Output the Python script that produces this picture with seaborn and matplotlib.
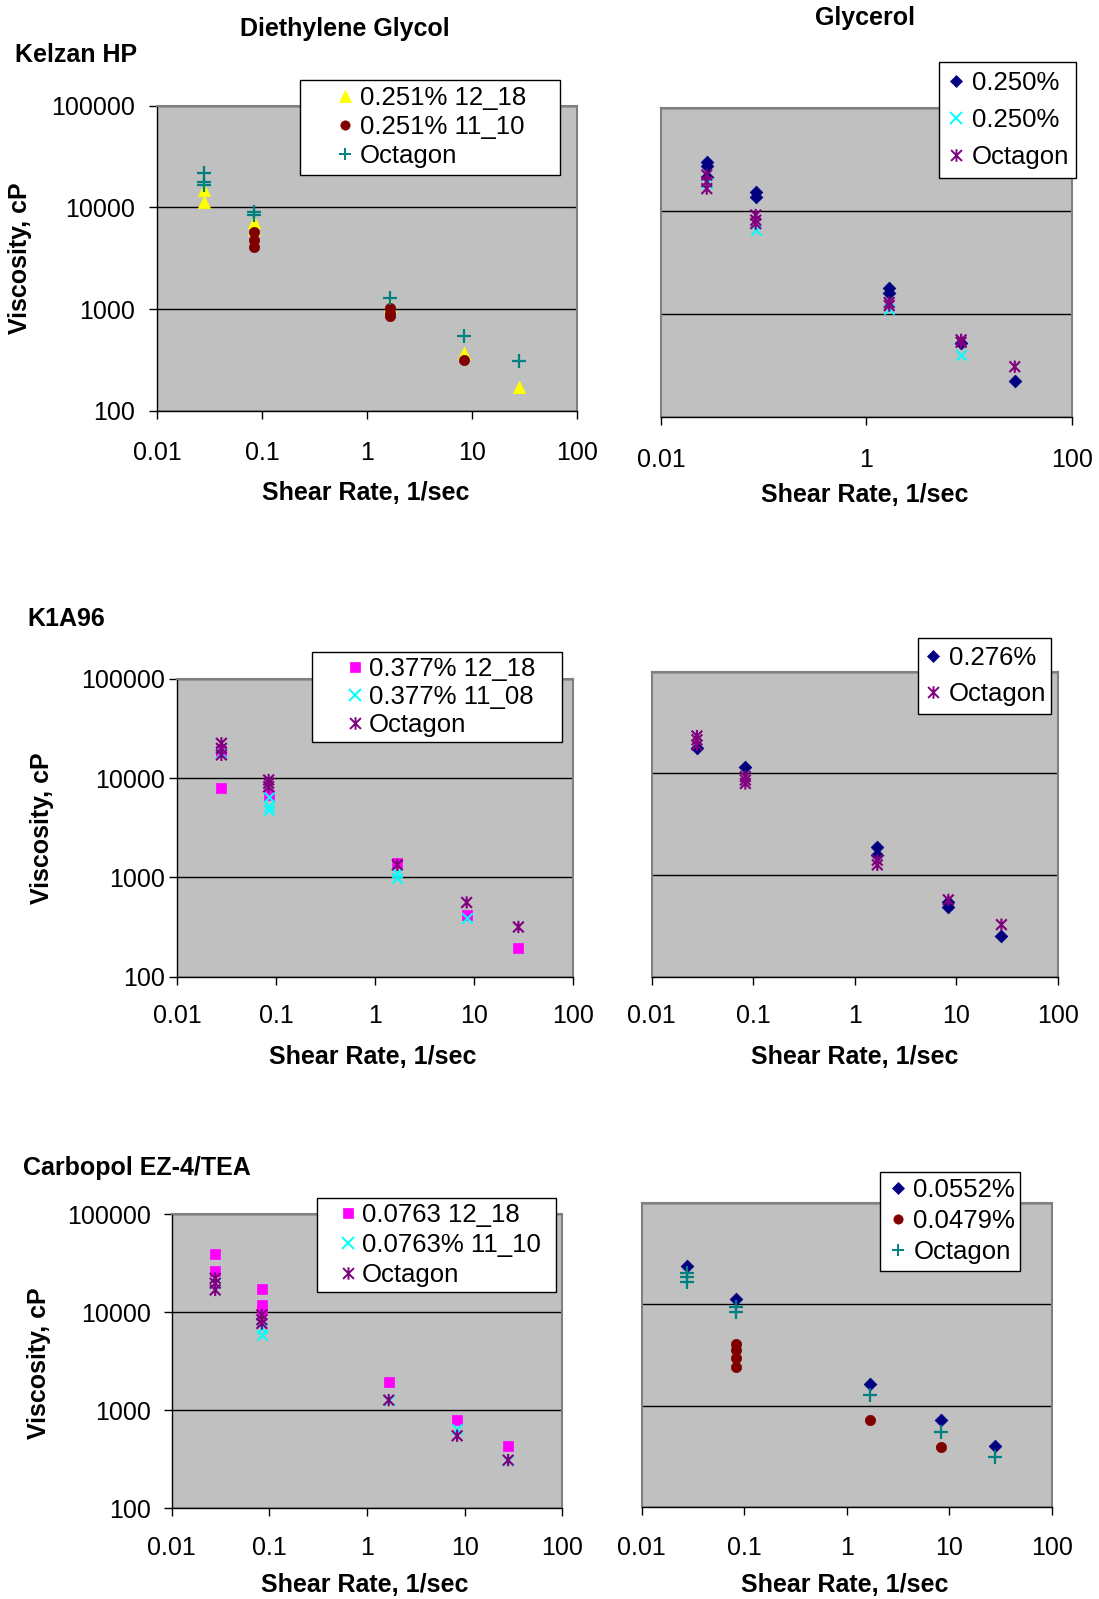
import matplotlib
matplotlib.use("Agg")
import matplotlib.pyplot as plt
from matplotlib.path import Path
from matplotlib.lines import Line2D
from matplotlib.ticker import FixedLocator, FixedFormatter, NullLocator
import seaborn as sns

sns.set_theme(style="ticks", rc={
    "text.color": "black", "axes.labelcolor": "black",
    "xtick.color": "black", "ytick.color": "black",
})
plt.rcParams['font.family'] = ['Liberation Sans', 'DejaVu Sans']

W, H = 1099, 1599

# ---------------- tick values / labels ----------------
x_ticks = [0.01, 0.1, 1, 10, 100]
x_tick_labels = ["0.01", "0.1", "1", "10", "100"]
x_ticks_sparse = [0.01, 1, 100]
x_tick_labels_sparse = ["0.01", "1", "100"]
y_ticks = [100, 1000, 10000, 100000]
y_tick_labels = ["100", "1000", "10000", "100000"]

# ---------------- data (shear rate 1/sec, viscosity cP) ----------------
# Kelzan HP - Diethylene Glycol
kzd_a_x = [0.0279, 0.0279, 0.0837, 0.0837, 1.67, 8.37, 27.9]
kzd_a_y = [14800, 11400, 7200, 6200, 1070, 370, 174]
kzd_b_x = [0.0837, 0.0837, 0.0837, 1.67, 1.67, 1.67, 8.37]
kzd_b_y = [5800, 4800, 4050, 1020, 920, 850, 316]
kzd_c_x = [0.0279, 0.0279, 0.0279, 0.0837, 0.0837, 1.67, 8.37, 27.9]
kzd_c_y = [21700, 17900, 16800, 9100, 8400, 1280, 547, 310]

# Kelzan HP - Glycerol
kzg_a_x = [0.0279, 0.0279, 0.0279, 0.0837, 0.0837, 1.67, 1.67, 8.37, 27.9]
kzg_a_y = [30000, 27500, 21500, 15500, 13900, 1820, 1620, 525, 225]
kzg_b_x = [0.0279, 0.0837, 1.67, 8.37]
kzg_b_y = [19000, 6600, 1125, 400]
kzg_c_x = [0.0279, 0.0279, 0.0279, 0.0837, 0.0837, 0.0837, 1.67, 1.67, 8.37, 8.37, 27.9]
kzg_c_y = [22500, 19400, 16600, 9200, 8200, 7600, 1300, 1215, 565, 535, 310]

# K1A96 - Diethylene Glycol
k1d_a_x = [0.0279, 0.0279, 0.0837, 1.67, 8.37, 27.9]
k1d_a_y = [19000, 7900, 6800, 1400, 415, 195]
k1d_b_x = [0.0279, 0.0837, 0.0837, 0.0837, 1.67, 1.67, 8.37]
k1d_b_y = [18000, 6500, 5200, 4800, 1100, 980, 390]
k1d_c_x = [0.0279, 0.0279, 0.0279, 0.0837, 0.0837, 0.0837, 1.67, 8.37, 27.9]
k1d_c_y = [22500, 20000, 17200, 9600, 8900, 8200, 1340, 560, 317]

# K1A96 - Glycerol
k1g_a_x = [0.0279, 0.0837, 1.67, 1.67, 8.37, 8.37, 27.9]
k1g_a_y = [17700, 11600, 1900, 1580, 545, 490, 250]
k1g_b_x = [0.0279, 0.0279, 0.0279, 0.0837, 0.0837, 0.0837, 1.67, 1.67, 8.37, 27.9]
k1g_b_y = [23300, 21400, 19000, 9300, 8600, 7950, 1400, 1260, 570, 325]

# Carbopol EZ-4/TEA - Diethylene Glycol
cbd_a_x = [0.0279, 0.0279, 0.0837, 0.0837, 0.0837, 1.67, 8.37, 27.9]
cbd_a_y = [39400, 26600, 17300, 11900, 10500, 1950, 795, 430]
cbd_b_x = [0.0279, 0.0837, 0.0837, 1.67, 8.37, 27.9]
cbd_b_y = [20000, 6900, 5860, 1270, 650, 310]
cbd_c_x = [0.0279, 0.0279, 0.0279, 0.0837, 0.0837, 0.0837, 1.67, 8.37, 27.9]
cbd_c_y = [22200, 19800, 16900, 9400, 8400, 7700, 1270, 550, 310]

# Carbopol EZ-4/TEA - Glycerol
cbg_a_x = [0.0279, 0.0837, 1.67, 8.37, 27.9]
cbg_a_y = [24000, 11200, 1650, 716, 395]
cbg_b_x = [0.0837, 0.0837, 0.0837, 0.0837, 1.67, 8.37]
cbg_b_y = [4050, 3580, 2985, 2410, 725, 387]
cbg_c_x = [0.0279, 0.0279, 0.0279, 0.0837, 0.0837, 1.67, 8.37, 27.9]
cbg_c_y = [20600, 18800, 16700, 9460, 8450, 1260, 550, 310]

# ---------------- styles ----------------
YELLOW, DARKRED, TEAL = "#FFFF00", "#800000", "#008080"
NAVY, CYAN, PURPLE, MAGENTA = "#000080", "#00FFFF", "#800080", "#FF00FF"

star = Path([(-1, -1), (1, 1), (-1, 1), (1, -1), (0, -1.15), (0, 1.15)],
            [Path.MOVETO, Path.LINETO, Path.MOVETO, Path.LINETO, Path.MOVETO, Path.LINETO])

STY = {
    "tri":  dict(marker="^", s=80, lw=0.5, kind="filled", leg_ms=8.6),
    "circ": dict(marker="o", s=55, lw=0.5, kind="filled", leg_ms=6.7),
    "plus": dict(marker="+", s=92, lw=1.6, kind="line", leg_ms=8.4),
    "diam": dict(marker="D", s=42, lw=0.5, kind="filled", leg_ms=6.1),
    "x":    dict(marker="x", s=55, lw=1.5, kind="line", leg_ms=8.8),
    "sq":   dict(marker="s", s=50, lw=0.5, kind="filled", leg_ms=6.7),
    "star": dict(marker=star, s=78, lw=1.5, kind="path", leg_ms=9.0),
}

panels = [
    dict(rect=(157.3, 105.7, 576.7, 411.0), xt=(x_ticks, x_tick_labels), ylab=True, ypad=9.9, xpad=16,
         series=[(kzd_a_x, kzd_a_y, "0.251% 12_18", "tri", YELLOW),
                 (kzd_b_x, kzd_b_y, "0.251% 11_10", "circ", DARKRED),
                 (kzd_c_x, kzd_c_y, "Octagon", "plus", TEAL)],
         leg=dict(box=(300, 79.5, 260), bp=0.25, ls=0.20, hl=2.97, htp=-0.89)),
    dict(rect=(661.0, 108.3, 1071.7, 417.3), xt=(x_ticks_sparse, x_tick_labels_sparse), ylab=False, ypad=0, xpad=16,
         series=[(kzg_a_x, kzg_a_y, "0.250%", "diam", NAVY),
                 (kzg_b_x, kzg_b_y, "0.250%", "x", CYAN),
                 (kzg_c_x, kzg_c_y, "Octagon", "star", PURPLE)],
         leg=dict(box=(939, 62, 137), bp=0.35, ls=0.50, hl=0.62, htp=0.30)),
    dict(rect=(177.3, 679.0, 573.3, 976.7), xt=(x_ticks, x_tick_labels), ylab=True, ypad=3, xpad=14,
         series=[(k1d_a_x, k1d_a_y, "0.377% 12_18", "sq", MAGENTA),
                 (k1d_b_x, k1d_b_y, "0.377% 11_08", "x", CYAN),
                 (k1d_c_x, k1d_c_y, "Octagon", "star", PURPLE)],
         leg=dict(box=(312, 652, 250), bp=0.18, ls=0.17, hl=2.97, htp=-0.94)),
    dict(rect=(651.7, 671.7, 1057.7, 976.7), xt=(x_ticks, x_tick_labels), ylab=False, ypad=0, xpad=14,
         series=[(k1g_a_x, k1g_a_y, "0.276%", "diam", NAVY),
                 (k1g_b_x, k1g_b_y, "Octagon", "star", PURPLE)],
         leg=dict(box=(918, 638, 133), bp=0.32, ls=0.45, hl=0.51, htp=0.37)),
    dict(rect=(171.7, 1214.3, 562.3, 1508.3), xt=(x_ticks, x_tick_labels), ylab=True, ypad=9.2, xpad=14,
         series=[(cbd_a_x, cbd_a_y, "0.0763 12_18", "sq", MAGENTA),
                 (cbd_b_x, cbd_b_y, "0.0763% 11_10", "x", CYAN),
                 (cbd_c_x, cbd_c_y, "Octagon", "star", PURPLE)],
         leg=dict(box=(317, 1198, 239), bp=0.18, ls=0.25, hl=2.02, htp=-0.45)),
    dict(rect=(641.7, 1203.3, 1051.7, 1506.7), xt=(x_ticks, x_tick_labels), ylab=False, ypad=0, xpad=15,
         series=[(cbg_a_x, cbg_a_y, "0.0552%", "diam", NAVY),
                 (cbg_b_x, cbg_b_y, "0.0479%", "circ", DARKRED),
                 (cbg_c_x, cbg_c_y, "Octagon", "plus", TEAL)],
         leg=dict(box=(880, 1172, 140), bp=0.25, ls=0.27, hl=0.90, htp=0.15)),
]

fig = plt.figure(figsize=(W / 100, H / 100), dpi=100)
fig.patch.set_facecolor("white")

for p in panels:
    l, t, r, b = p["rect"]
    ax = fig.add_axes([l / W, 1 - b / H, (r - l) / W, (b - t) / H])
    ax.set_facecolor("#C0C0C0")
    ax.set_xscale("log")
    ax.set_yscale("log")
    handles, labels = [], []
    for xs, ys, lab, key, col in p["series"]:
        st = STY[key]
        kw = dict(x=xs, y=ys, ax=ax, marker=st["marker"], s=st["s"], color=col,
                  legend=False, zorder=3, linewidth=st["lw"])
        if st["kind"] == "filled":
            kw["edgecolor"] = col
        elif st["kind"] == "path":
            kw["edgecolor"] = col
            kw["facecolor"] = "none"
        sns.scatterplot(**kw)
        if st["kind"] == "filled":
            h = Line2D([], [], linestyle="none", marker=st["marker"], markersize=st["leg_ms"],
                       markerfacecolor=col, markeredgecolor=col, markeredgewidth=0.5)
        elif st["kind"] == "path":
            h = Line2D([], [], linestyle="none", marker=st["marker"], markersize=st["leg_ms"],
                       markerfacecolor="none", markeredgecolor=col, markeredgewidth=1.4)
        else:
            h = Line2D([], [], linestyle="none", marker=st["marker"], markersize=st["leg_ms"],
                       color=col, markeredgewidth=1.4)
        handles.append(h)
        labels.append(lab)

    ax.set_xlim(0.01, 100)
    ax.set_ylim(100, 100000)
    xt, xtl = p["xt"]
    ax.xaxis.set_major_locator(FixedLocator(xt))
    ax.xaxis.set_major_formatter(FixedFormatter(xtl))
    ax.xaxis.set_minor_locator(NullLocator())
    ax.yaxis.set_major_locator(FixedLocator(y_ticks))
    ax.yaxis.set_major_formatter(FixedFormatter(y_tick_labels))
    ax.yaxis.set_minor_locator(NullLocator())
    ax.set_xlabel("")
    ax.set_ylabel("")
    ax.tick_params(axis="x", which="major", direction="out", length=5.8, width=1,
                   color="black", labelsize=18, pad=p["xpad"], bottom=True, top=False)
    if p["ylab"]:
        ax.tick_params(axis="y", which="major", direction="out", length=5.8, width=1,
                       color="black", labelsize=18, pad=p["ypad"], left=True, right=False)
    else:
        ax.tick_params(axis="y", which="major", left=False, right=False, labelleft=False)
    ax.grid(False)
    ax.yaxis.grid(True, color="black", linewidth=1.0)
    ax.set_axisbelow(True)
    for side in ["top", "right"]:
        ax.spines[side].set_visible(True)
        ax.spines[side].set_color("#808080")
        ax.spines[side].set_linewidth(1.5)
    ax.spines["bottom"].set_color("black")
    ax.spines["bottom"].set_linewidth(1.0)
    ax.spines["left"].set_color("black" if p["ylab"] else "#808080")
    ax.spines["left"].set_linewidth(1.0 if p["ylab"] else 1.5)

    lg = p["leg"]
    bx, by, bw = lg["box"]
    leg = ax.legend(handles, labels, loc="upper left",
                    bbox_to_anchor=(bx / W, 1 - by / H, bw / W, 0),
                    bbox_transform=fig.transFigure, mode="expand", borderaxespad=0,
                    frameon=True, fancybox=False, framealpha=1, edgecolor="black",
                    facecolor="white", fontsize=18.5, borderpad=lg["bp"],
                    labelspacing=lg["ls"], handlelength=lg["hl"], handletextpad=lg["htp"],
                    numpoints=1)
    leg.get_frame().set_linewidth(1.0)
    leg.set_zorder(5)


def ftxt(x, y, s, **kw):
    fig.text(x / W, 1 - y / H, s, **kw)


bold = dict(fontsize=18, fontweight="bold", color="black")
ftxt(344.5, 35.7, "Diethylene Glycol", ha="center", va="baseline", **bold)
ftxt(864.5, 25.0, "Glycerol", ha="center", va="baseline", **bold)
ftxt(15.0, 62.3, "Kelzan HP", ha="left", va="baseline", **bold)
ftxt(27.5, 626.5, "K1A96", ha="left", va="baseline", **bold)
ftxt(22.7, 1175.0, "Carbopol EZ-4/TEA", ha="left", va="baseline", **bold)

for (cx, by) in [(366, 500.5), (865, 501.7), (373, 1064), (854.3, 1064), (365, 1592), (845, 1592)]:
    ftxt(cx, by, "Shear Rate, 1/sec", ha="center", va="baseline", **bold)

for (cx, cy) in [(20, 258.5), (41.8, 828), (38.7, 1363)]:
    ftxt(cx, cy, "Viscosity, cP", ha="center", va="center", rotation=90, **bold)

fig.savefig("out.png", dpi=100)
